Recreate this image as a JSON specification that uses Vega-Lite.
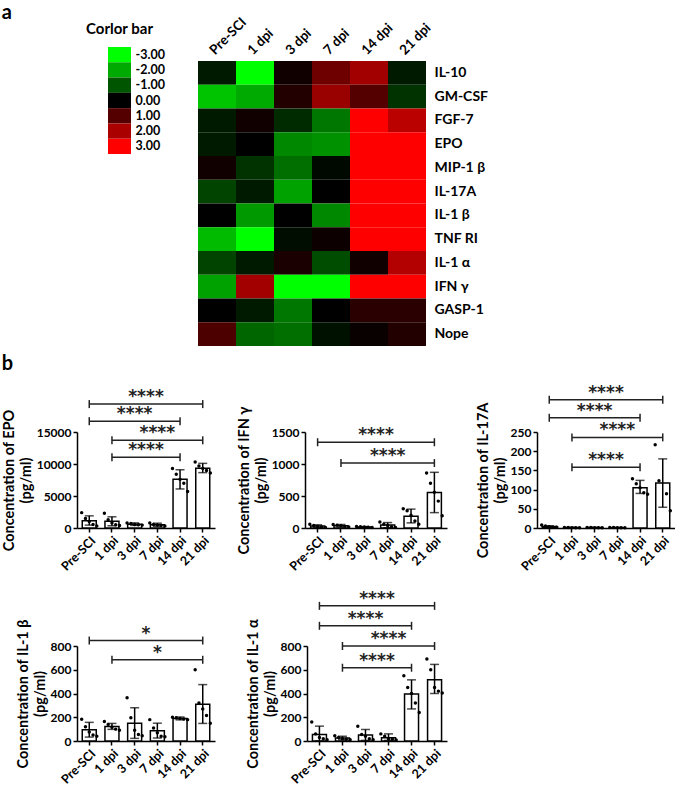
{
  "$schema": "https://vega.github.io/schema/vega-lite/v6.json",
  "padding": {"left": 1, "top": 2, "right": 0, "bottom": 0},
  "title": {"text": "a", "anchor": "start", "fontSize": 20, "offset": -8},
  "config": {
    "font": "Lato",
    "view": {"stroke": null},
    "title": {"font": "Lato", "fontWeight": "bold", "color": "#000000"},
    "axis": {"labelFont": "Lato", "labelFontWeight": "bold", "labelColor": "#000000", "labelFontSize": 12, "titleFont": "Lato", "titleFontWeight": "bold", "titleColor": "#000000", "titleFontSize": 14.5, "domainColor": "#000000", "tickColor": "#000000", "domainWidth": 1.5, "tickWidth": 1.5, "grid": false, "labelOverlap": false, "labelSeparation": 0},
    "axisY": {"labelOverlap": false},
    "axisQuantitative": {"labelOverlap": false}
  },
  "resolve": {"scale": {"xOffset": "independent"}},
  "datasets": {
    "legend": [
      {"v": -3, "lab": "-3.00"}, {"v": -2, "lab": "-2.00"}, {"v": -1, "lab": "-1.00"}, {"v": 0, "lab": "0.00"},
      {"v": 1, "lab": "1.00"}, {"v": 2, "lab": "2.00"}, {"v": 3, "lab": "3.00"}
    ],
    "heat": [
      {"c": "IL-10", "t": "Pre-SCI", "v": -0.3}, {"c": "IL-10", "t": "1 dpi", "v": -3}, {"c": "IL-10", "t": "3 dpi", "v": 0.2}, {"c": "IL-10", "t": "7 dpi", "v": 1.3}, {"c": "IL-10", "t": "14 dpi", "v": 1.9}, {"c": "IL-10", "t": "21 dpi", "v": -0.3},
      {"c": "GM-CSF", "t": "Pre-SCI", "v": -2.3}, {"c": "GM-CSF", "t": "1 dpi", "v": -2.0}, {"c": "GM-CSF", "t": "3 dpi", "v": 0.4}, {"c": "GM-CSF", "t": "7 dpi", "v": 1.8}, {"c": "GM-CSF", "t": "14 dpi", "v": 1.0}, {"c": "GM-CSF", "t": "21 dpi", "v": -0.6},
      {"c": "FGF-7", "t": "Pre-SCI", "v": -0.3}, {"c": "FGF-7", "t": "1 dpi", "v": 0.2}, {"c": "FGF-7", "t": "3 dpi", "v": -0.5}, {"c": "FGF-7", "t": "7 dpi", "v": -1.4}, {"c": "FGF-7", "t": "14 dpi", "v": 3}, {"c": "FGF-7", "t": "21 dpi", "v": 2.2},
      {"c": "EPO", "t": "Pre-SCI", "v": -0.3}, {"c": "EPO", "t": "1 dpi", "v": 0}, {"c": "EPO", "t": "3 dpi", "v": -1.6}, {"c": "EPO", "t": "7 dpi", "v": -1.7}, {"c": "EPO", "t": "14 dpi", "v": 3}, {"c": "EPO", "t": "21 dpi", "v": 3},
      {"c": "MIP-1 β", "t": "Pre-SCI", "v": 0.2}, {"c": "MIP-1 β", "t": "1 dpi", "v": -0.6}, {"c": "MIP-1 β", "t": "3 dpi", "v": -1.3}, {"c": "MIP-1 β", "t": "7 dpi", "v": -0.1}, {"c": "MIP-1 β", "t": "14 dpi", "v": 3}, {"c": "MIP-1 β", "t": "21 dpi", "v": 3},
      {"c": "IL-17A", "t": "Pre-SCI", "v": -0.8}, {"c": "IL-17A", "t": "1 dpi", "v": -0.3}, {"c": "IL-17A", "t": "3 dpi", "v": -1.9}, {"c": "IL-17A", "t": "7 dpi", "v": 0}, {"c": "IL-17A", "t": "14 dpi", "v": 3}, {"c": "IL-17A", "t": "21 dpi", "v": 3},
      {"c": "IL-1 β", "t": "Pre-SCI", "v": 0}, {"c": "IL-1 β", "t": "1 dpi", "v": -1.8}, {"c": "IL-1 β", "t": "3 dpi", "v": 0}, {"c": "IL-1 β", "t": "7 dpi", "v": -1.6}, {"c": "IL-1 β", "t": "14 dpi", "v": 3}, {"c": "IL-1 β", "t": "21 dpi", "v": 3},
      {"c": "TNF RI", "t": "Pre-SCI", "v": -2.2}, {"c": "TNF RI", "t": "1 dpi", "v": -3}, {"c": "TNF RI", "t": "3 dpi", "v": -0.15}, {"c": "TNF RI", "t": "7 dpi", "v": 0.15}, {"c": "TNF RI", "t": "14 dpi", "v": 3}, {"c": "TNF RI", "t": "21 dpi", "v": 3},
      {"c": "IL-1 α", "t": "Pre-SCI", "v": -0.8}, {"c": "IL-1 α", "t": "1 dpi", "v": -0.3}, {"c": "IL-1 α", "t": "3 dpi", "v": 0.3}, {"c": "IL-1 α", "t": "7 dpi", "v": -0.9}, {"c": "IL-1 α", "t": "14 dpi", "v": 0.2}, {"c": "IL-1 α", "t": "21 dpi", "v": 2.1},
      {"c": "IFN γ", "t": "Pre-SCI", "v": -1.9}, {"c": "IFN γ", "t": "1 dpi", "v": 1.9}, {"c": "IFN γ", "t": "3 dpi", "v": -3}, {"c": "IFN γ", "t": "7 dpi", "v": -3}, {"c": "IFN γ", "t": "14 dpi", "v": 3}, {"c": "IFN γ", "t": "21 dpi", "v": 3},
      {"c": "GASP-1", "t": "Pre-SCI", "v": 0}, {"c": "GASP-1", "t": "1 dpi", "v": -0.3}, {"c": "GASP-1", "t": "3 dpi", "v": -1.4}, {"c": "GASP-1", "t": "7 dpi", "v": 0}, {"c": "GASP-1", "t": "14 dpi", "v": 0.5}, {"c": "GASP-1", "t": "21 dpi", "v": 0.5},
      {"c": "Nope", "t": "Pre-SCI", "v": 0.9}, {"c": "Nope", "t": "1 dpi", "v": -1.2}, {"c": "Nope", "t": "3 dpi", "v": -1.3}, {"c": "Nope", "t": "7 dpi", "v": -0.2}, {"c": "Nope", "t": "14 dpi", "v": 0.1}, {"c": "Nope", "t": "21 dpi", "v": 0.4}
    ],
    "bars": [
      {"cyt": "EPO", "t": "Pre-SCI", "mean": 1150, "lo": 450, "hi": 1900},
      {"cyt": "EPO", "t": "1 dpi", "mean": 1050, "lo": 350, "hi": 1750},
      {"cyt": "EPO", "t": "3 dpi", "mean": 600, "lo": 400, "hi": 800},
      {"cyt": "EPO", "t": "7 dpi", "mean": 500, "lo": 250, "hi": 750},
      {"cyt": "EPO", "t": "14 dpi", "mean": 7600, "lo": 6100, "hi": 9100},
      {"cyt": "EPO", "t": "21 dpi", "mean": 9350, "lo": 8650, "hi": 10100},
      {"cyt": "IFN", "t": "Pre-SCI", "mean": 30, "lo": 10, "hi": 50},
      {"cyt": "IFN", "t": "1 dpi", "mean": 35, "lo": 15, "hi": 55},
      {"cyt": "IFN", "t": "3 dpi", "mean": 15, "lo": 8, "hi": 22},
      {"cyt": "IFN", "t": "7 dpi", "mean": 45, "lo": 5, "hi": 85},
      {"cyt": "IFN", "t": "14 dpi", "mean": 185, "lo": 80, "hi": 295},
      {"cyt": "IFN", "t": "21 dpi", "mean": 555, "lo": 240, "hi": 870},
      {"cyt": "IL17A", "t": "Pre-SCI", "mean": 4, "lo": 2, "hi": 6},
      {"cyt": "IL17A", "t": "1 dpi", "mean": 1, "lo": 0.5, "hi": 1.5},
      {"cyt": "IL17A", "t": "3 dpi", "mean": 1, "lo": 0.5, "hi": 1.5},
      {"cyt": "IL17A", "t": "7 dpi", "mean": 1, "lo": 0.5, "hi": 1.5},
      {"cyt": "IL17A", "t": "14 dpi", "mean": 105, "lo": 90, "hi": 124},
      {"cyt": "IL17A", "t": "21 dpi", "mean": 117, "lo": 54, "hi": 180},
      {"cyt": "IL1b", "t": "Pre-SCI", "mean": 94, "lo": 33, "hi": 157},
      {"cyt": "IL1b", "t": "1 dpi", "mean": 122, "lo": 98, "hi": 148},
      {"cyt": "IL1b", "t": "3 dpi", "mean": 150, "lo": 22, "hi": 280},
      {"cyt": "IL1b", "t": "7 dpi", "mean": 87, "lo": 25, "hi": 150},
      {"cyt": "IL1b", "t": "14 dpi", "mean": 190, "lo": 178, "hi": 202},
      {"cyt": "IL1b", "t": "21 dpi", "mean": 310, "lo": 148, "hi": 475},
      {"cyt": "IL1a", "t": "Pre-SCI", "mean": 55, "lo": 0, "hi": 125},
      {"cyt": "IL1a", "t": "1 dpi", "mean": 25, "lo": 10, "hi": 40},
      {"cyt": "IL1a", "t": "3 dpi", "mean": 50, "lo": 5, "hi": 97},
      {"cyt": "IL1a", "t": "7 dpi", "mean": 28, "lo": 5, "hi": 60},
      {"cyt": "IL1a", "t": "14 dpi", "mean": 395, "lo": 270, "hi": 515},
      {"cyt": "IL1a", "t": "21 dpi", "mean": 515, "lo": 400, "hi": 645}
    ],
    "points": [
      {"cyt": "EPO", "t": "Pre-SCI", "rep": 1, "v": 2400}, {"cyt": "EPO", "t": "Pre-SCI", "rep": 2, "v": 1500}, {"cyt": "EPO", "t": "Pre-SCI", "rep": 3, "v": 1000}, {"cyt": "EPO", "t": "Pre-SCI", "rep": 4, "v": 550}, {"cyt": "EPO", "t": "Pre-SCI", "rep": 5, "v": 300},
      {"cyt": "EPO", "t": "1 dpi", "rep": 1, "v": 2300}, {"cyt": "EPO", "t": "1 dpi", "rep": 2, "v": 1300}, {"cyt": "EPO", "t": "1 dpi", "rep": 3, "v": 800}, {"cyt": "EPO", "t": "1 dpi", "rep": 4, "v": 500}, {"cyt": "EPO", "t": "1 dpi", "rep": 5, "v": 400},
      {"cyt": "EPO", "t": "3 dpi", "rep": 1, "v": 800}, {"cyt": "EPO", "t": "3 dpi", "rep": 2, "v": 700}, {"cyt": "EPO", "t": "3 dpi", "rep": 3, "v": 550}, {"cyt": "EPO", "t": "3 dpi", "rep": 4, "v": 500}, {"cyt": "EPO", "t": "3 dpi", "rep": 5, "v": 450},
      {"cyt": "EPO", "t": "7 dpi", "rep": 1, "v": 800}, {"cyt": "EPO", "t": "7 dpi", "rep": 2, "v": 550}, {"cyt": "EPO", "t": "7 dpi", "rep": 3, "v": 450}, {"cyt": "EPO", "t": "7 dpi", "rep": 4, "v": 400}, {"cyt": "EPO", "t": "7 dpi", "rep": 5, "v": 300},
      {"cyt": "EPO", "t": "14 dpi", "rep": 1, "v": 9300}, {"cyt": "EPO", "t": "14 dpi", "rep": 2, "v": 8400}, {"cyt": "EPO", "t": "14 dpi", "rep": 3, "v": 7600}, {"cyt": "EPO", "t": "14 dpi", "rep": 4, "v": 7000}, {"cyt": "EPO", "t": "14 dpi", "rep": 5, "v": 5700},
      {"cyt": "EPO", "t": "21 dpi", "rep": 1, "v": 10300}, {"cyt": "EPO", "t": "21 dpi", "rep": 2, "v": 9700}, {"cyt": "EPO", "t": "21 dpi", "rep": 3, "v": 9300}, {"cyt": "EPO", "t": "21 dpi", "rep": 4, "v": 9000}, {"cyt": "EPO", "t": "21 dpi", "rep": 5, "v": 8600},
      {"cyt": "IFN", "t": "Pre-SCI", "rep": 1, "v": 60}, {"cyt": "IFN", "t": "Pre-SCI", "rep": 2, "v": 40}, {"cyt": "IFN", "t": "Pre-SCI", "rep": 3, "v": 25}, {"cyt": "IFN", "t": "Pre-SCI", "rep": 4, "v": 15}, {"cyt": "IFN", "t": "Pre-SCI", "rep": 5, "v": 10},
      {"cyt": "IFN", "t": "1 dpi", "rep": 1, "v": 55}, {"cyt": "IFN", "t": "1 dpi", "rep": 2, "v": 45}, {"cyt": "IFN", "t": "1 dpi", "rep": 3, "v": 35}, {"cyt": "IFN", "t": "1 dpi", "rep": 4, "v": 25}, {"cyt": "IFN", "t": "1 dpi", "rep": 5, "v": 15},
      {"cyt": "IFN", "t": "3 dpi", "rep": 1, "v": 22}, {"cyt": "IFN", "t": "3 dpi", "rep": 2, "v": 18}, {"cyt": "IFN", "t": "3 dpi", "rep": 3, "v": 15}, {"cyt": "IFN", "t": "3 dpi", "rep": 4, "v": 12}, {"cyt": "IFN", "t": "3 dpi", "rep": 5, "v": 8},
      {"cyt": "IFN", "t": "7 dpi", "rep": 1, "v": 95}, {"cyt": "IFN", "t": "7 dpi", "rep": 2, "v": 60}, {"cyt": "IFN", "t": "7 dpi", "rep": 3, "v": 40}, {"cyt": "IFN", "t": "7 dpi", "rep": 4, "v": 20}, {"cyt": "IFN", "t": "7 dpi", "rep": 5, "v": 10},
      {"cyt": "IFN", "t": "14 dpi", "rep": 1, "v": 300}, {"cyt": "IFN", "t": "14 dpi", "rep": 2, "v": 270}, {"cyt": "IFN", "t": "14 dpi", "rep": 3, "v": 200}, {"cyt": "IFN", "t": "14 dpi", "rep": 4, "v": 110}, {"cyt": "IFN", "t": "14 dpi", "rep": 5, "v": 60},
      {"cyt": "IFN", "t": "21 dpi", "rep": 1, "v": 860}, {"cyt": "IFN", "t": "21 dpi", "rep": 2, "v": 700}, {"cyt": "IFN", "t": "21 dpi", "rep": 3, "v": 560}, {"cyt": "IFN", "t": "21 dpi", "rep": 4, "v": 420}, {"cyt": "IFN", "t": "21 dpi", "rep": 5, "v": 190},
      {"cyt": "IL17A", "t": "Pre-SCI", "rep": 1, "v": 8}, {"cyt": "IL17A", "t": "Pre-SCI", "rep": 2, "v": 5}, {"cyt": "IL17A", "t": "Pre-SCI", "rep": 3, "v": 3}, {"cyt": "IL17A", "t": "Pre-SCI", "rep": 4, "v": 2}, {"cyt": "IL17A", "t": "Pre-SCI", "rep": 5, "v": 2},
      {"cyt": "IL17A", "t": "1 dpi", "rep": 1, "v": 1.5}, {"cyt": "IL17A", "t": "1 dpi", "rep": 2, "v": 1.2}, {"cyt": "IL17A", "t": "1 dpi", "rep": 3, "v": 1}, {"cyt": "IL17A", "t": "1 dpi", "rep": 4, "v": 0.8}, {"cyt": "IL17A", "t": "1 dpi", "rep": 5, "v": 0.5},
      {"cyt": "IL17A", "t": "3 dpi", "rep": 1, "v": 1.5}, {"cyt": "IL17A", "t": "3 dpi", "rep": 2, "v": 1.2}, {"cyt": "IL17A", "t": "3 dpi", "rep": 3, "v": 1}, {"cyt": "IL17A", "t": "3 dpi", "rep": 4, "v": 0.8}, {"cyt": "IL17A", "t": "3 dpi", "rep": 5, "v": 0.5},
      {"cyt": "IL17A", "t": "7 dpi", "rep": 1, "v": 1.5}, {"cyt": "IL17A", "t": "7 dpi", "rep": 2, "v": 1.2}, {"cyt": "IL17A", "t": "7 dpi", "rep": 3, "v": 1}, {"cyt": "IL17A", "t": "7 dpi", "rep": 4, "v": 0.8}, {"cyt": "IL17A", "t": "7 dpi", "rep": 5, "v": 0.5},
      {"cyt": "IL17A", "t": "14 dpi", "rep": 1, "v": 128}, {"cyt": "IL17A", "t": "14 dpi", "rep": 2, "v": 115}, {"cyt": "IL17A", "t": "14 dpi", "rep": 3, "v": 105}, {"cyt": "IL17A", "t": "14 dpi", "rep": 4, "v": 92}, {"cyt": "IL17A", "t": "14 dpi", "rep": 5, "v": 88},
      {"cyt": "IL17A", "t": "21 dpi", "rep": 1, "v": 217}, {"cyt": "IL17A", "t": "21 dpi", "rep": 2, "v": 123}, {"cyt": "IL17A", "t": "21 dpi", "rep": 4, "v": 89}, {"cyt": "IL17A", "t": "21 dpi", "rep": 5, "v": 45},
      {"cyt": "IL1b", "t": "Pre-SCI", "rep": 1, "v": 183}, {"cyt": "IL1b", "t": "Pre-SCI", "rep": 2, "v": 120}, {"cyt": "IL1b", "t": "Pre-SCI", "rep": 3, "v": 75}, {"cyt": "IL1b", "t": "Pre-SCI", "rep": 4, "v": 50}, {"cyt": "IL1b", "t": "Pre-SCI", "rep": 5, "v": 40},
      {"cyt": "IL1b", "t": "1 dpi", "rep": 1, "v": 165}, {"cyt": "IL1b", "t": "1 dpi", "rep": 2, "v": 140}, {"cyt": "IL1b", "t": "1 dpi", "rep": 3, "v": 115}, {"cyt": "IL1b", "t": "1 dpi", "rep": 4, "v": 100}, {"cyt": "IL1b", "t": "1 dpi", "rep": 5, "v": 90},
      {"cyt": "IL1b", "t": "3 dpi", "rep": 1, "v": 365}, {"cyt": "IL1b", "t": "3 dpi", "rep": 2, "v": 195}, {"cyt": "IL1b", "t": "3 dpi", "rep": 3, "v": 90}, {"cyt": "IL1b", "t": "3 dpi", "rep": 4, "v": 55}, {"cyt": "IL1b", "t": "3 dpi", "rep": 5, "v": 45},
      {"cyt": "IL1b", "t": "7 dpi", "rep": 1, "v": 180}, {"cyt": "IL1b", "t": "7 dpi", "rep": 2, "v": 110}, {"cyt": "IL1b", "t": "7 dpi", "rep": 3, "v": 70}, {"cyt": "IL1b", "t": "7 dpi", "rep": 4, "v": 40}, {"cyt": "IL1b", "t": "7 dpi", "rep": 5, "v": 35},
      {"cyt": "IL1b", "t": "14 dpi", "rep": 1, "v": 200}, {"cyt": "IL1b", "t": "14 dpi", "rep": 2, "v": 195}, {"cyt": "IL1b", "t": "14 dpi", "rep": 3, "v": 190}, {"cyt": "IL1b", "t": "14 dpi", "rep": 4, "v": 185}, {"cyt": "IL1b", "t": "14 dpi", "rep": 5, "v": 180},
      {"cyt": "IL1b", "t": "21 dpi", "rep": 1, "v": 600}, {"cyt": "IL1b", "t": "21 dpi", "rep": 2, "v": 320}, {"cyt": "IL1b", "t": "21 dpi", "rep": 3, "v": 270}, {"cyt": "IL1b", "t": "21 dpi", "rep": 4, "v": 215}, {"cyt": "IL1b", "t": "21 dpi", "rep": 5, "v": 150},
      {"cyt": "IL1a", "t": "Pre-SCI", "rep": 1, "v": 160}, {"cyt": "IL1a", "t": "Pre-SCI", "rep": 2, "v": 60}, {"cyt": "IL1a", "t": "Pre-SCI", "rep": 3, "v": 30}, {"cyt": "IL1a", "t": "Pre-SCI", "rep": 4, "v": 20}, {"cyt": "IL1a", "t": "Pre-SCI", "rep": 5, "v": 10},
      {"cyt": "IL1a", "t": "1 dpi", "rep": 1, "v": 45}, {"cyt": "IL1a", "t": "1 dpi", "rep": 2, "v": 30}, {"cyt": "IL1a", "t": "1 dpi", "rep": 3, "v": 20}, {"cyt": "IL1a", "t": "1 dpi", "rep": 4, "v": 15}, {"cyt": "IL1a", "t": "1 dpi", "rep": 5, "v": 10},
      {"cyt": "IL1a", "t": "3 dpi", "rep": 1, "v": 125}, {"cyt": "IL1a", "t": "3 dpi", "rep": 2, "v": 55}, {"cyt": "IL1a", "t": "3 dpi", "rep": 3, "v": 40}, {"cyt": "IL1a", "t": "3 dpi", "rep": 4, "v": 20}, {"cyt": "IL1a", "t": "3 dpi", "rep": 5, "v": 10},
      {"cyt": "IL1a", "t": "7 dpi", "rep": 1, "v": 60}, {"cyt": "IL1a", "t": "7 dpi", "rep": 2, "v": 40}, {"cyt": "IL1a", "t": "7 dpi", "rep": 3, "v": 20}, {"cyt": "IL1a", "t": "7 dpi", "rep": 4, "v": 15}, {"cyt": "IL1a", "t": "7 dpi", "rep": 5, "v": 8},
      {"cyt": "IL1a", "t": "14 dpi", "rep": 1, "v": 550}, {"cyt": "IL1a", "t": "14 dpi", "rep": 2, "v": 450}, {"cyt": "IL1a", "t": "14 dpi", "rep": 3, "v": 400}, {"cyt": "IL1a", "t": "14 dpi", "rep": 4, "v": 320}, {"cyt": "IL1a", "t": "14 dpi", "rep": 5, "v": 240},
      {"cyt": "IL1a", "t": "21 dpi", "rep": 1, "v": 690}, {"cyt": "IL1a", "t": "21 dpi", "rep": 2, "v": 600}, {"cyt": "IL1a", "t": "21 dpi", "rep": 3, "v": 450}, {"cyt": "IL1a", "t": "21 dpi", "rep": 4, "v": 420}, {"cyt": "IL1a", "t": "21 dpi", "rep": 5, "v": 405}
    ],
    "brackets": [
      {"cyt": "EPO", "from": "Pre-SCI", "to": "21 dpi", "y": 19360, "label": "****", "mid": "7 dpi", "pos": "e"},
      {"cyt": "EPO", "from": "Pre-SCI", "to": "14 dpi", "y": 16690, "label": "****", "mid": "3 dpi", "pos": "c"},
      {"cyt": "EPO", "from": "1 dpi", "to": "21 dpi", "y": 13700, "label": "****", "mid": "7 dpi", "pos": "c"},
      {"cyt": "EPO", "from": "1 dpi", "to": "14 dpi", "y": 11040, "label": "****", "mid": "7 dpi", "pos": "e"},
      {"cyt": "IFN", "from": "Pre-SCI", "to": "21 dpi", "y": 1340, "label": "****", "mid": "7 dpi", "pos": "e"},
      {"cyt": "IFN", "from": "1 dpi", "to": "21 dpi", "y": 1015, "label": "****", "mid": "7 dpi", "pos": "c"},
      {"cyt": "IL17A", "from": "Pre-SCI", "to": "21 dpi", "y": 334, "label": "****", "mid": "7 dpi", "pos": "e"},
      {"cyt": "IL17A", "from": "Pre-SCI", "to": "14 dpi", "y": 287, "label": "****", "mid": "3 dpi", "pos": "c"},
      {"cyt": "IL17A", "from": "1 dpi", "to": "21 dpi", "y": 236, "label": "****", "mid": "7 dpi", "pos": "c"},
      {"cyt": "IL17A", "from": "1 dpi", "to": "14 dpi", "y": 158, "label": "****", "mid": "7 dpi", "pos": "e"},
      {"cyt": "IL1b", "from": "Pre-SCI", "to": "21 dpi", "y": 846, "label": "*", "mid": "7 dpi", "pos": "e"},
      {"cyt": "IL1b", "from": "1 dpi", "to": "21 dpi", "y": 684, "label": "*", "mid": "7 dpi", "pos": "c"},
      {"cyt": "IL1a", "from": "Pre-SCI", "to": "21 dpi", "y": 1138, "label": "****", "mid": "7 dpi", "pos": "e"},
      {"cyt": "IL1a", "from": "Pre-SCI", "to": "14 dpi", "y": 970, "label": "****", "mid": "3 dpi", "pos": "c"},
      {"cyt": "IL1a", "from": "1 dpi", "to": "21 dpi", "y": 800, "label": "****", "mid": "7 dpi", "pos": "c"},
      {"cyt": "IL1a", "from": "1 dpi", "to": "14 dpi", "y": 617, "label": "****", "mid": "7 dpi", "pos": "e"}
    ]
  },
  "spacing": 7,
  "vconcat": [
    {
      "spacing": 33,
      "resolve": {"scale": {"xOffset": "independent"}},
      "hconcat": [
        {
          "data": {"name": "legend"},
          "width": 54,
          "height": 107,
          "title": {"text": "Corlor bar", "anchor": "end", "frame": "group", "dx": 22, "offset": 10, "fontSize": 15},
          "mark": {"type": "rect"},
          "encoding": {
            "x": {"datum": "swatch", "type": "nominal", "scale": {"type": "band", "paddingInner": 0, "paddingOuter": 0.674, "align": 1}, "axis": null},
            "y": {"field": "lab", "type": "ordinal", "sort": ["-3.00", "-2.00", "-1.00", "0.00", "1.00", "2.00", "3.00"], "scale": {"type": "band", "paddingInner": 0, "paddingOuter": 0}, "axis": {"orient": "right", "domain": false, "ticks": false, "labelPadding": 4, "title": null, "labelFontSize": 12.5}},
            "color": {"field": "v", "type": "quantitative", "scale": {"domain": [-3, 0, 3], "range": ["#00ff00", "#000000", "#ff0000"], "interpolate": "rgb"}, "legend": null}
          }
        },
        {
          "data": {"name": "heat"},
          "width": 228,
          "height": 299,
          "mark": {"type": "rect"},
          "encoding": {
            "x": {"field": "t", "type": "nominal", "sort": ["Pre-SCI", "1 dpi", "3 dpi", "7 dpi", "14 dpi", "21 dpi"], "scale": {"type": "band", "paddingInner": 0, "paddingOuter": 0}, "axis": {"orient": "top", "offset": -14, "labelAngle": -45, "domain": false, "ticks": false, "title": null, "labelFontSize": 13.5, "labelPadding": 4}},
            "y": {"field": "c", "type": "nominal", "sort": ["IL-10", "GM-CSF", "FGF-7", "EPO", "MIP-1 β", "IL-17A", "IL-1 β", "TNF RI", "IL-1 α", "IFN γ", "GASP-1", "Nope"], "scale": {"type": "band", "paddingInner": 0, "paddingOuter": 0.2947, "align": 1}, "axis": {"orient": "right", "domain": false, "ticks": false, "title": null, "labelFontSize": 14, "labelPadding": 8}},
            "color": {"field": "v", "type": "quantitative", "scale": {"domain": [-3, 0, 3], "range": ["#00ff00", "#000000", "#ff0000"], "interpolate": "rgb"}, "legend": null}
          }
        }
      ]
    },
    {
      "title": {"text": "b", "anchor": "start", "fontSize": 20, "offset": 10},
      "spacing": 16,
      "resolve": {"scale": {"xOffset": "independent"}},
      "vconcat": [
        {
          "bounds": "flush",
          "spacing": 90,
          "resolve": {"scale": {"xOffset": "independent"}},
          "hconcat": [
            {
              "width": 138, "height": 96,
              "layer": [
                {"data": {"name": "bars"}, "transform": [{"filter": "datum.cyt === 'EPO'"}],
                 "mark": {"type": "bar", "width": 14, "fill": "#ffffff", "stroke": "#000000", "strokeWidth": 1.5},
                 "encoding": {
                   "x": {"field": "t", "type": "nominal", "scale": {"type": "band", "domain": ["Pre-SCI", "1 dpi", "3 dpi", "7 dpi", "14 dpi", "21 dpi"], "paddingInner": 0, "paddingOuter": 0.04}, "axis": {"title": null, "labelAngle": -45, "labelFontSize": 12.5, "tickSize": 4, "labelPadding": 2}},
                   "y": {"field": "mean", "type": "quantitative", "scale": {"domain": [0, 15000], "nice": false}, "axis": {"values": [0, 5000, 10000, 15000], "tickCount": 4, "format": "d", "labelOverlap": false, "title": ["Concentration of EPO", "(pg/ml)"], "tickSize": 4, "labelPadding": 2, "titlePadding": 3}}
                 }},
                {"data": {"name": "bars"}, "transform": [{"filter": "datum.cyt === 'EPO'"}], "mark": {"type": "rule", "color": "#000000", "strokeWidth": 1.5},
                 "encoding": {"x": {"field": "t", "type": "nominal"}, "y": {"field": "lo", "type": "quantitative"}, "y2": {"field": "hi"}}},
                {"data": {"name": "bars"}, "transform": [{"filter": "datum.cyt === 'EPO'"}], "mark": {"type": "tick", "color": "#000000", "size": 9, "thickness": 1.5},
                 "encoding": {"x": {"field": "t", "type": "nominal"}, "y": {"field": "hi", "type": "quantitative"}}},
                {"data": {"name": "bars"}, "transform": [{"filter": "datum.cyt === 'EPO'"}], "mark": {"type": "tick", "color": "#000000", "size": 9, "thickness": 1.5},
                 "encoding": {"x": {"field": "t", "type": "nominal"}, "y": {"field": "lo", "type": "quantitative"}}},
                {"data": {"name": "points"}, "transform": [{"filter": "datum.cyt === 'EPO'"}], "mark": {"type": "circle", "color": "#000000", "size": 12, "opacity": 1},
                 "encoding": {"x": {"field": "t", "type": "nominal"}, "xOffset": {"field": "rep", "type": "nominal", "scale": {"paddingInner": 0, "paddingOuter": 2}}, "y": {"field": "v", "type": "quantitative"}}},
                {"data": {"name": "brackets"}, "transform": [{"filter": "datum.cyt === 'EPO'"}], "mark": {"type": "rule", "color": "#222222", "strokeWidth": 1.5},
                 "encoding": {"x": {"field": "from", "type": "nominal"}, "x2": {"field": "to"}, "y": {"field": "y", "type": "quantitative"}}},
                {"data": {"name": "brackets"}, "transform": [{"filter": "datum.cyt === 'EPO'"}], "mark": {"type": "rule", "color": "#222222", "strokeWidth": 1.5, "yOffset": -4, "y2Offset": 4},
                 "encoding": {"x": {"field": "from", "type": "nominal"}, "y": {"field": "y", "type": "quantitative"}, "y2": {"field": "y"}}},
                {"data": {"name": "brackets"}, "transform": [{"filter": "datum.cyt === 'EPO'"}], "mark": {"type": "rule", "color": "#222222", "strokeWidth": 1.5, "yOffset": -4, "y2Offset": 4},
                 "encoding": {"x": {"field": "to", "type": "nominal"}, "y": {"field": "y", "type": "quantitative"}, "y2": {"field": "y"}}},
                {"data": {"name": "brackets"}, "transform": [{"filter": "datum.cyt === 'EPO' && datum.pos === 'c'"}], "mark": {"type": "text", "font": "DejaVu Sans", "fontWeight": "bold", "fontSize": 17, "baseline": "alphabetic", "dy": -2, "color": "#222222"},
                 "encoding": {"x": {"field": "mid", "type": "nominal"}, "y": {"field": "y", "type": "quantitative"}, "text": {"field": "label"}}},
                {"data": {"name": "brackets"}, "transform": [{"filter": "datum.cyt === 'EPO' && datum.pos === 'e'"}], "mark": {"type": "text", "font": "DejaVu Sans", "fontWeight": "bold", "fontSize": 17, "baseline": "alphabetic", "dy": -2, "color": "#222222"},
                 "encoding": {"x": {"field": "mid", "type": "nominal", "bandPosition": 0}, "y": {"field": "y", "type": "quantitative"}, "text": {"field": "label"}}}
              ]
            },
            {
              "width": 142, "height": 96,
              "layer": [
                {"data": {"name": "bars"}, "transform": [{"filter": "datum.cyt === 'IFN'"}],
                 "mark": {"type": "bar", "width": 14, "fill": "#ffffff", "stroke": "#000000", "strokeWidth": 1.5},
                 "encoding": {
                   "x": {"field": "t", "type": "nominal", "scale": {"type": "band", "domain": ["Pre-SCI", "1 dpi", "3 dpi", "7 dpi", "14 dpi", "21 dpi"], "paddingInner": 0, "paddingOuter": 0.04}, "axis": {"title": null, "labelAngle": -45, "labelFontSize": 12.5, "tickSize": 4, "labelPadding": 2}},
                   "y": {"field": "mean", "type": "quantitative", "scale": {"domain": [0, 1500], "nice": false}, "axis": {"tickCount": 4, "format": "d", "labelOverlap": false, "title": ["Concentration of IFN γ", "(pg/ml)"], "tickSize": 4, "labelPadding": 2, "titlePadding": 3}}
                 }},
                {"data": {"name": "bars"}, "transform": [{"filter": "datum.cyt === 'IFN'"}], "mark": {"type": "rule", "color": "#000000", "strokeWidth": 1.5},
                 "encoding": {"x": {"field": "t", "type": "nominal"}, "y": {"field": "lo", "type": "quantitative"}, "y2": {"field": "hi"}}},
                {"data": {"name": "bars"}, "transform": [{"filter": "datum.cyt === 'IFN'"}], "mark": {"type": "tick", "color": "#000000", "size": 9, "thickness": 1.5},
                 "encoding": {"x": {"field": "t", "type": "nominal"}, "y": {"field": "hi", "type": "quantitative"}}},
                {"data": {"name": "bars"}, "transform": [{"filter": "datum.cyt === 'IFN'"}], "mark": {"type": "tick", "color": "#000000", "size": 9, "thickness": 1.5},
                 "encoding": {"x": {"field": "t", "type": "nominal"}, "y": {"field": "lo", "type": "quantitative"}}},
                {"data": {"name": "points"}, "transform": [{"filter": "datum.cyt === 'IFN'"}], "mark": {"type": "circle", "color": "#000000", "size": 12, "opacity": 1},
                 "encoding": {"x": {"field": "t", "type": "nominal"}, "xOffset": {"field": "rep", "type": "nominal", "scale": {"paddingInner": 0, "paddingOuter": 2}}, "y": {"field": "v", "type": "quantitative"}}},
                {"data": {"name": "brackets"}, "transform": [{"filter": "datum.cyt === 'IFN'"}], "mark": {"type": "rule", "color": "#222222", "strokeWidth": 1.5},
                 "encoding": {"x": {"field": "from", "type": "nominal"}, "x2": {"field": "to"}, "y": {"field": "y", "type": "quantitative"}}},
                {"data": {"name": "brackets"}, "transform": [{"filter": "datum.cyt === 'IFN'"}], "mark": {"type": "rule", "color": "#222222", "strokeWidth": 1.5, "yOffset": -4, "y2Offset": 4},
                 "encoding": {"x": {"field": "from", "type": "nominal"}, "y": {"field": "y", "type": "quantitative"}, "y2": {"field": "y"}}},
                {"data": {"name": "brackets"}, "transform": [{"filter": "datum.cyt === 'IFN'"}], "mark": {"type": "rule", "color": "#222222", "strokeWidth": 1.5, "yOffset": -4, "y2Offset": 4},
                 "encoding": {"x": {"field": "to", "type": "nominal"}, "y": {"field": "y", "type": "quantitative"}, "y2": {"field": "y"}}},
                {"data": {"name": "brackets"}, "transform": [{"filter": "datum.cyt === 'IFN' && datum.pos === 'c'"}], "mark": {"type": "text", "font": "DejaVu Sans", "fontWeight": "bold", "fontSize": 17, "baseline": "alphabetic", "dy": -2, "color": "#222222"},
                 "encoding": {"x": {"field": "mid", "type": "nominal"}, "y": {"field": "y", "type": "quantitative"}, "text": {"field": "label"}}},
                {"data": {"name": "brackets"}, "transform": [{"filter": "datum.cyt === 'IFN' && datum.pos === 'e'"}], "mark": {"type": "text", "font": "DejaVu Sans", "fontWeight": "bold", "fontSize": 17, "baseline": "alphabetic", "dy": -2, "color": "#222222"},
                 "encoding": {"x": {"field": "mid", "type": "nominal", "bandPosition": 0}, "y": {"field": "y", "type": "quantitative"}, "text": {"field": "label"}}}
              ]
            },
            {
              "width": 138, "height": 96,
              "layer": [
                {"data": {"name": "bars"}, "transform": [{"filter": "datum.cyt === 'IL17A'"}],
                 "mark": {"type": "bar", "width": 14, "fill": "#ffffff", "stroke": "#000000", "strokeWidth": 1.5},
                 "encoding": {
                   "x": {"field": "t", "type": "nominal", "scale": {"type": "band", "domain": ["Pre-SCI", "1 dpi", "3 dpi", "7 dpi", "14 dpi", "21 dpi"], "paddingInner": 0, "paddingOuter": 0.04}, "axis": {"title": null, "labelAngle": -45, "labelFontSize": 12.5, "tickSize": 4, "labelPadding": 2}},
                   "y": {"field": "mean", "type": "quantitative", "scale": {"domain": [0, 250], "nice": false}, "axis": {"tickCount": 6, "format": "d", "labelOverlap": false, "title": ["Concentration of IL-17A", "(pg/ml)"], "tickSize": 4, "labelPadding": 2, "titlePadding": 3}}
                 }},
                {"data": {"name": "bars"}, "transform": [{"filter": "datum.cyt === 'IL17A'"}], "mark": {"type": "rule", "color": "#000000", "strokeWidth": 1.5},
                 "encoding": {"x": {"field": "t", "type": "nominal"}, "y": {"field": "lo", "type": "quantitative"}, "y2": {"field": "hi"}}},
                {"data": {"name": "bars"}, "transform": [{"filter": "datum.cyt === 'IL17A'"}], "mark": {"type": "tick", "color": "#000000", "size": 9, "thickness": 1.5},
                 "encoding": {"x": {"field": "t", "type": "nominal"}, "y": {"field": "hi", "type": "quantitative"}}},
                {"data": {"name": "bars"}, "transform": [{"filter": "datum.cyt === 'IL17A'"}], "mark": {"type": "tick", "color": "#000000", "size": 9, "thickness": 1.5},
                 "encoding": {"x": {"field": "t", "type": "nominal"}, "y": {"field": "lo", "type": "quantitative"}}},
                {"data": {"name": "points"}, "transform": [{"filter": "datum.cyt === 'IL17A'"}], "mark": {"type": "circle", "color": "#000000", "size": 12, "opacity": 1},
                 "encoding": {"x": {"field": "t", "type": "nominal"}, "xOffset": {"field": "rep", "type": "nominal", "scale": {"paddingInner": 0, "paddingOuter": 2}}, "y": {"field": "v", "type": "quantitative"}}},
                {"data": {"name": "brackets"}, "transform": [{"filter": "datum.cyt === 'IL17A'"}], "mark": {"type": "rule", "color": "#222222", "strokeWidth": 1.5},
                 "encoding": {"x": {"field": "from", "type": "nominal"}, "x2": {"field": "to"}, "y": {"field": "y", "type": "quantitative"}}},
                {"data": {"name": "brackets"}, "transform": [{"filter": "datum.cyt === 'IL17A'"}], "mark": {"type": "rule", "color": "#222222", "strokeWidth": 1.5, "yOffset": -4, "y2Offset": 4},
                 "encoding": {"x": {"field": "from", "type": "nominal"}, "y": {"field": "y", "type": "quantitative"}, "y2": {"field": "y"}}},
                {"data": {"name": "brackets"}, "transform": [{"filter": "datum.cyt === 'IL17A'"}], "mark": {"type": "rule", "color": "#222222", "strokeWidth": 1.5, "yOffset": -4, "y2Offset": 4},
                 "encoding": {"x": {"field": "to", "type": "nominal"}, "y": {"field": "y", "type": "quantitative"}, "y2": {"field": "y"}}},
                {"data": {"name": "brackets"}, "transform": [{"filter": "datum.cyt === 'IL17A' && datum.pos === 'c'"}], "mark": {"type": "text", "font": "DejaVu Sans", "fontWeight": "bold", "fontSize": 17, "baseline": "alphabetic", "dy": -2, "color": "#222222"},
                 "encoding": {"x": {"field": "mid", "type": "nominal"}, "y": {"field": "y", "type": "quantitative"}, "text": {"field": "label"}}},
                {"data": {"name": "brackets"}, "transform": [{"filter": "datum.cyt === 'IL17A' && datum.pos === 'e'"}], "mark": {"type": "text", "font": "DejaVu Sans", "fontWeight": "bold", "fontSize": 17, "baseline": "alphabetic", "dy": -2, "color": "#222222"},
                 "encoding": {"x": {"field": "mid", "type": "nominal", "bandPosition": 0}, "y": {"field": "y", "type": "quantitative"}, "text": {"field": "label"}}}
              ]
            }
          ]
        },
        {
          "bounds": "flush",
          "spacing": 92,
          "resolve": {"scale": {"xOffset": "independent"}},
          "hconcat": [
            {
              "width": 138, "height": 95,
              "layer": [
                {"data": {"name": "bars"}, "transform": [{"filter": "datum.cyt === 'IL1b'"}],
                 "mark": {"type": "bar", "width": 14, "fill": "#ffffff", "stroke": "#000000", "strokeWidth": 1.5},
                 "encoding": {
                   "x": {"field": "t", "type": "nominal", "scale": {"type": "band", "domain": ["Pre-SCI", "1 dpi", "3 dpi", "7 dpi", "14 dpi", "21 dpi"], "paddingInner": 0, "paddingOuter": 0.04}, "axis": {"title": null, "labelAngle": -45, "labelFontSize": 12.5, "tickSize": 4, "labelPadding": 2}},
                   "y": {"field": "mean", "type": "quantitative", "scale": {"domain": [0, 800], "nice": false}, "axis": {"tickCount": 4, "format": "d", "labelOverlap": false, "title": ["Concentration of IL-1 β", "(pg/ml)"], "tickSize": 4, "labelPadding": 2, "titlePadding": 3}}
                 }},
                {"data": {"name": "bars"}, "transform": [{"filter": "datum.cyt === 'IL1b'"}], "mark": {"type": "rule", "color": "#000000", "strokeWidth": 1.5},
                 "encoding": {"x": {"field": "t", "type": "nominal"}, "y": {"field": "lo", "type": "quantitative"}, "y2": {"field": "hi"}}},
                {"data": {"name": "bars"}, "transform": [{"filter": "datum.cyt === 'IL1b'"}], "mark": {"type": "tick", "color": "#000000", "size": 9, "thickness": 1.5},
                 "encoding": {"x": {"field": "t", "type": "nominal"}, "y": {"field": "hi", "type": "quantitative"}}},
                {"data": {"name": "bars"}, "transform": [{"filter": "datum.cyt === 'IL1b'"}], "mark": {"type": "tick", "color": "#000000", "size": 9, "thickness": 1.5},
                 "encoding": {"x": {"field": "t", "type": "nominal"}, "y": {"field": "lo", "type": "quantitative"}}},
                {"data": {"name": "points"}, "transform": [{"filter": "datum.cyt === 'IL1b'"}], "mark": {"type": "circle", "color": "#000000", "size": 12, "opacity": 1},
                 "encoding": {"x": {"field": "t", "type": "nominal"}, "xOffset": {"field": "rep", "type": "nominal", "scale": {"paddingInner": 0, "paddingOuter": 2}}, "y": {"field": "v", "type": "quantitative"}}},
                {"data": {"name": "brackets"}, "transform": [{"filter": "datum.cyt === 'IL1b'"}], "mark": {"type": "rule", "color": "#222222", "strokeWidth": 1.5},
                 "encoding": {"x": {"field": "from", "type": "nominal"}, "x2": {"field": "to"}, "y": {"field": "y", "type": "quantitative"}}},
                {"data": {"name": "brackets"}, "transform": [{"filter": "datum.cyt === 'IL1b'"}], "mark": {"type": "rule", "color": "#222222", "strokeWidth": 1.5, "yOffset": -4, "y2Offset": 4},
                 "encoding": {"x": {"field": "from", "type": "nominal"}, "y": {"field": "y", "type": "quantitative"}, "y2": {"field": "y"}}},
                {"data": {"name": "brackets"}, "transform": [{"filter": "datum.cyt === 'IL1b'"}], "mark": {"type": "rule", "color": "#222222", "strokeWidth": 1.5, "yOffset": -4, "y2Offset": 4},
                 "encoding": {"x": {"field": "to", "type": "nominal"}, "y": {"field": "y", "type": "quantitative"}, "y2": {"field": "y"}}},
                {"data": {"name": "brackets"}, "transform": [{"filter": "datum.cyt === 'IL1b' && datum.pos === 'c'"}], "mark": {"type": "text", "font": "DejaVu Sans", "fontWeight": "bold", "fontSize": 17, "baseline": "alphabetic", "dy": -2, "color": "#222222"},
                 "encoding": {"x": {"field": "mid", "type": "nominal"}, "y": {"field": "y", "type": "quantitative"}, "text": {"field": "label"}}},
                {"data": {"name": "brackets"}, "transform": [{"filter": "datum.cyt === 'IL1b' && datum.pos === 'e'"}], "mark": {"type": "text", "font": "DejaVu Sans", "fontWeight": "bold", "fontSize": 17, "baseline": "alphabetic", "dy": -2, "color": "#222222"},
                 "encoding": {"x": {"field": "mid", "type": "nominal", "bandPosition": 0}, "y": {"field": "y", "type": "quantitative"}, "text": {"field": "label"}}}
              ]
            },
            {
              "width": 140, "height": 95,
              "layer": [
                {"data": {"name": "bars"}, "transform": [{"filter": "datum.cyt === 'IL1a'"}],
                 "mark": {"type": "bar", "width": 14, "fill": "#ffffff", "stroke": "#000000", "strokeWidth": 1.5},
                 "encoding": {
                   "x": {"field": "t", "type": "nominal", "scale": {"type": "band", "domain": ["Pre-SCI", "1 dpi", "3 dpi", "7 dpi", "14 dpi", "21 dpi"], "paddingInner": 0, "paddingOuter": 0.04}, "axis": {"title": null, "labelAngle": -45, "labelFontSize": 12.5, "tickSize": 4, "labelPadding": 2}},
                   "y": {"field": "mean", "type": "quantitative", "scale": {"domain": [0, 800], "nice": false}, "axis": {"tickCount": 4, "format": "d", "labelOverlap": false, "title": ["Concentration of IL-1 α", "(pg/ml)"], "tickSize": 4, "labelPadding": 2, "titlePadding": 3}}
                 }},
                {"data": {"name": "bars"}, "transform": [{"filter": "datum.cyt === 'IL1a'"}], "mark": {"type": "rule", "color": "#000000", "strokeWidth": 1.5},
                 "encoding": {"x": {"field": "t", "type": "nominal"}, "y": {"field": "lo", "type": "quantitative"}, "y2": {"field": "hi"}}},
                {"data": {"name": "bars"}, "transform": [{"filter": "datum.cyt === 'IL1a'"}], "mark": {"type": "tick", "color": "#000000", "size": 9, "thickness": 1.5},
                 "encoding": {"x": {"field": "t", "type": "nominal"}, "y": {"field": "hi", "type": "quantitative"}}},
                {"data": {"name": "bars"}, "transform": [{"filter": "datum.cyt === 'IL1a'"}], "mark": {"type": "tick", "color": "#000000", "size": 9, "thickness": 1.5},
                 "encoding": {"x": {"field": "t", "type": "nominal"}, "y": {"field": "lo", "type": "quantitative"}}},
                {"data": {"name": "points"}, "transform": [{"filter": "datum.cyt === 'IL1a'"}], "mark": {"type": "circle", "color": "#000000", "size": 12, "opacity": 1},
                 "encoding": {"x": {"field": "t", "type": "nominal"}, "xOffset": {"field": "rep", "type": "nominal", "scale": {"paddingInner": 0, "paddingOuter": 2}}, "y": {"field": "v", "type": "quantitative"}}},
                {"data": {"name": "brackets"}, "transform": [{"filter": "datum.cyt === 'IL1a'"}], "mark": {"type": "rule", "color": "#222222", "strokeWidth": 1.5},
                 "encoding": {"x": {"field": "from", "type": "nominal"}, "x2": {"field": "to"}, "y": {"field": "y", "type": "quantitative"}}},
                {"data": {"name": "brackets"}, "transform": [{"filter": "datum.cyt === 'IL1a'"}], "mark": {"type": "rule", "color": "#222222", "strokeWidth": 1.5, "yOffset": -4, "y2Offset": 4},
                 "encoding": {"x": {"field": "from", "type": "nominal"}, "y": {"field": "y", "type": "quantitative"}, "y2": {"field": "y"}}},
                {"data": {"name": "brackets"}, "transform": [{"filter": "datum.cyt === 'IL1a'"}], "mark": {"type": "rule", "color": "#222222", "strokeWidth": 1.5, "yOffset": -4, "y2Offset": 4},
                 "encoding": {"x": {"field": "to", "type": "nominal"}, "y": {"field": "y", "type": "quantitative"}, "y2": {"field": "y"}}},
                {"data": {"name": "brackets"}, "transform": [{"filter": "datum.cyt === 'IL1a' && datum.pos === 'c'"}], "mark": {"type": "text", "font": "DejaVu Sans", "fontWeight": "bold", "fontSize": 17, "baseline": "alphabetic", "dy": -2, "color": "#222222"},
                 "encoding": {"x": {"field": "mid", "type": "nominal"}, "y": {"field": "y", "type": "quantitative"}, "text": {"field": "label"}}},
                {"data": {"name": "brackets"}, "transform": [{"filter": "datum.cyt === 'IL1a' && datum.pos === 'e'"}], "mark": {"type": "text", "font": "DejaVu Sans", "fontWeight": "bold", "fontSize": 17, "baseline": "alphabetic", "dy": -2, "color": "#222222"},
                 "encoding": {"x": {"field": "mid", "type": "nominal", "bandPosition": 0}, "y": {"field": "y", "type": "quantitative"}, "text": {"field": "label"}}}
              ]
            }
          ]
        }
      ]
    }
  ]
}
